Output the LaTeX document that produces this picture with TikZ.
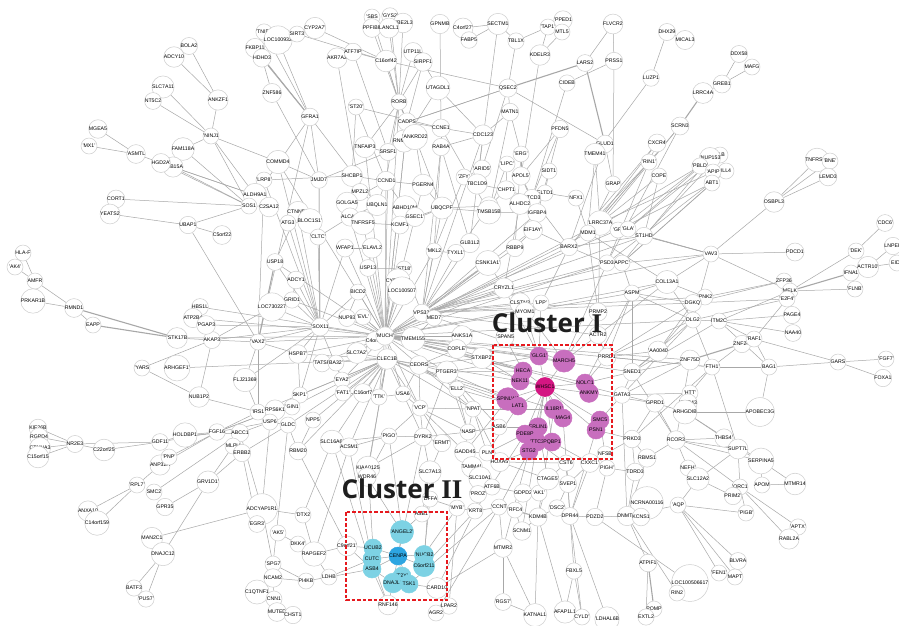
\documentclass[tikz,border=0pt]{standalone}
\usepackage{fontspec}
\setmainfont{Liberation Sans}
\newfontfamily\clusterfont{Open Sans}
\newfontfamily\numeralfont{Liberation Serif}
\usetikzlibrary{backgrounds}
\definecolor{edgegray}{RGB}{168,168,168}
\definecolor{ringgray}{RGB}{205,205,205}
\definecolor{pinknode}{RGB}{200,110,190}
\definecolor{magnode}{RGB}{212,22,130}
\definecolor{cyannode}{RGB}{125,210,228}
\definecolor{bluenode}{RGB}{45,165,225}
\definecolor{boxred}{RGB}{230,25,30}
\definecolor{titlegray}{RGB}{30,30,30}
\tikzset{
  nd/.style={circle,draw=ringgray,line width=0.5pt,fill=white,minimum size=16pt,inner sep=0pt,
             font=\fontsize{5.2}{6}\selectfont,text=black},
  pk/.style={fill=pinknode,draw=pinknode,minimum size=18pt},
  mg/.style={fill=magnode,draw=magnode,minimum size=18pt},
  cy/.style={fill=cyannode,draw=cyannode,minimum size=18pt},
  bl/.style={fill=bluenode,draw=bluenode,minimum size=18pt},
  ed/.style={draw=edgegray,line width=0.5pt},
  edt/.style={draw=edgegray,line width=1.1pt},
  clusterbox/.style={draw=boxred,line width=1.1pt,dash pattern=on 3.5pt off 2pt},
  clustertitle/.style={font=\clusterfont\bfseries\fontsize{26}{30}\selectfont,text=titlegray,inner sep=0pt}
}
\newcommand\gn[5][]{\node[nd,#1] (#2) at (#3,#4) {#5};}
\newcommand\romnum[1]{{\numeralfont\bfseries\fontsize{27}{30}\selectfont #1}}
\begin{document}
\begin{tikzpicture}[x=1pt,y=-1pt]
\useasboundingbox (0,0) rectangle (899,625);

% ---------- genes ----------
% upper left
\gn{bola2}{189}{46}{BOLA2}
\gn{adcy10}{174}{57}{ADCY10}
\gn{slc7a11}{163}{87}{SLC7A11}
\gn{nt5c2}{153}{101}{NT5C2}
\gn{ankzf1}{218}{100}{ANKZF1}
\gn{ninj1}{211}{136}{'NINJ1}
\gn{fam118a}{183}{149}{FAM118A}
\gn{mgea5}{98}{129}{MGEA5}
\gn{mx1}{89}{146}{'MX1'}
\gn{asmtl}{136}{154}{'ASMTL}
\gn{rab15a}{173}{167}{RAB15A}
\gn{hgd2a}{161}{163}{HGD2A'}
\gn{cort1}{116}{199}{CORT1}
\gn{yeats2}{110}{214}{YEATS2}
\gn{ubap1}{188}{225}{UBAP1}
\gn{c5orf22}{222}{235}{C5orf22}
% left
\gn{hlaf}{23}{253}{HLA-F}
\gn{ak4}{15}{267}{'AK4'}
\gn{amfr}{35}{281}{AMFR}
\gn{prkar1b}{33}{301}{PRKAR1B}
\gn{rmnd1}{74}{308}{RMND1}
\gn{eapp}{93}{325}{EAPP}
\gn{stk17b}{177}{338}{'STK17B}
\gn{akap3}{212}{340}{AKAP3}
\gn{hbs1l}{200}{307}{HBS1L}
\gn{atp2b4}{193}{318}{ATP2B4}
\gn{pgap3}{206}{325}{'PGAP3}
\gn{yars}{142}{368}{'YARS}
\gn{arhgef1}{177}{368}{ARHGEF1'}
\gn{nubp1}{199}{397}{NUB1P2}
% lower left
\gn{kif26b}{38}{428}{KIF26B}
\gn{rgpd4}{39}{437}{RGPD4}
\gn{ctnna3}{40}{448}{CTNNA3}
\gn{c15orf15}{38}{457}{C15orf15}
\gn{nr2e3}{75}{444}{NR2E3}
\gn{c22orf25}{104}{450}{C22orf25}
\gn{gdf11}{160}{442}{GDF11}
\gn{holdbp}{185}{435}{HOLDBP1}
\gn{fgf16}{217}{432}{FGF16}
\gn{anp32}{160}{465}{ANP32A}
\gn{pnp}{169}{457}{'PNP'}
\gn{rpl7}{137}{485}{'RPL7'}
\gn{smc2}{154}{492}{SMC2}
\gn{gpr35}{165}{507}{GPR35}
\gn{anxa10}{88}{511}{ANXA10}
\gn{c14orf159}{97}{523}{C14orf159}
\gn{cry1d}{208}{482}{GRV1D1'}
\gn{man2c1}{152}{538}{MAN2C1}
\gn{dnajc12}{163}{554}{DNAJC12}
\gn{batf3}{134}{588}{BATF3}
\gn{pus7}{146}{599}{'PUS7'}
% top, left of centre
\gn{tnip3}{264}{32}{'TNIP3}
\gn{loc100}{278}{40}{LOC100932}
\gn{fkbp11}{255}{48}{FKBP11}
\gn{hdhd3}{262}{58}{HDHD3}
\gn{sirt3}{297}{34}{SIRT3}
\gn{cyp2a7}{315}{28}{CYP2A7'}
\gn{znf586}{272}{93}{ZNF586}
\gn{gfra1}{310}{117}{GFRA1}
\gn{akr7a2}{337}{58}{AKR7A2}
\gn{atf7ip}{353}{52}{ATF7IP}
\gn{sbs}{372}{17}{'SBS}
\gn{gys2}{390}{16}{'GYS2'}
\gn{ube2l3}{403}{23}{UBE2L3}
\gn{ppfibp}{372}{28}{PPFIBP}
\gn{lancl1}{389}{28}{LANCL1}
\gn{c16orf42}{386}{61}{C16orf42}
\gn{utp11l}{413}{52}{UTP11L}
\gn{sirpf1}{423}{62}{SIRPF1}
\gn{gpnmb}{440}{24}{GPNMB}
\gn{st20}{356}{107}{'ST20'}
\gn{rorb}{399}{102}{RORB}
\gn{utagdl1}{438}{88}{UTAGDL1}
\gn{cadps}{407}{122}{CADPS}
\gn{ccne1}{441}{128}{CCNE1}
\gn{rnmd4a}{404}{141}{RNMD4A}
\gn{ankrd22}{415}{137}{'ANKRD22}
\gn{rab4a}{441}{147}{RAB4A}
\gn{tnfaip3}{365}{147}{TNFAIP3}
\gn{srsf1}{388}{152}{SRSF1}
\gn{commd4}{278}{162}{COMMD4}
\gn{lrp8}{264}{180}{'LRP8'}
\gn{jmjd7}{319}{180}{JMJD7}
\gn{shcbp1}{352}{176}{SHCBP1}
\gn{ccnd1}{386}{181}{'CCND1}
\gn{mpzl2}{360}{192}{MPZL2}
\gn{pgern}{423}{185}{PGERN4}
\gn{aldh9a1}{255}{195}{ALDH9A1}
\gn{sos1}{249}{206}{SOS1}
\gn{c25a12}{269}{207}{C2SA12}
\gn{golga5}{347}{203}{GOLGA5}
\gn{ubqln1}{377}{205}{UBQLN1}
\gn{ctnnd2}{298}{212}{CTNND2}
\gn{abhd10}{405}{208}{ABHD10M}
\gn{ubqcpf}{442}{208}{UBQCPF}
% top, right of centre
\gn{c4orf27}{463}{28}{C4orf27'}
\gn{sectm1}{498}{24}{SECTM1}
\gn{fabp5}{469}{40}{FABP5}
\gn{tbl1x}{516}{41}{TBL1X}
\gn{tap1}{548}{27}{'TAP1'}
\gn{pped1}{563}{20}{'PPED1}
\gn{mtl5}{562}{32}{MTL5}
\gn{kdelr3}{540}{55}{KDELR3}
\gn{qsec2}{508}{88}{QSEC2}
\gn{lars2}{585}{63}{LARS2}
\gn{prss1}{614}{61}{PRSS1}
\gn{cideb}{567}{83}{CIDEB}
\gn{flvcr2}{613}{24}{FLVCR2}
\gn{luzp1}{651}{78}{LUZP1}
\gn{dhx29}{667}{32}{DHX29}
\gn{mical3}{685}{40}{MICAL3}
\gn{matn1}{510}{112}{MATN1}
\gn{pfdn5}{560}{129}{PFDN5}
\gn{cdc123}{483}{135}{CDC123}
\gn{glud1}{605}{144}{GLUD1}
\gn{tmem41}{595}{154}{TMEM41}
\gn{cxcr4}{657}{143}{CXCR4}
\gn{rin1}{649}{162}{'RIN1'}
\gn{cope}{659}{176}{COPE}
\gn{erg}{521}{154}{'ERG'}
\gn{lipc}{507}{164}{'LIPC'}
\gn{arid}{482}{169}{'ARID5'}
\gn{zfy}{464}{177}{'ZFY'}
\gn{tbc1d9}{477}{184}{TBC1D9}
\gn{apol5}{521}{176}{APOL5'}
\gn{sidt1}{549}{171}{SIDT1}
\gn{chpt1}{506}{190}{'CHPT1}
\gn{eltd1}{545}{193}{ELTD1}
\gn{ptcd3}{532}{198}{PTCD3}
\gn{nfx1}{576}{198}{NFX1}
\gn{grap}{613}{184}{GRAP}
\gn{mcph1}{489}{206}{MCPH1}
\gn{aldhc2}{520}{204}{ALHDC2}
% upper right
\gn{ddx58}{739}{54}{DDX58}
\gn{mafg}{752}{67}{MAFG}
\gn{greb1}{722}{84}{GREB1}
\gn{lrr}{703}{93}{LRRC4A}
\gn{scrn3}{680}{126}{SCRN3}
\gn{alb}{720}{155}{ALB}
\gn{nup153}{710}{158}{'NUP153}
\gn{pbld}{700}{166}{'PBLD'}
\gn{ill4}{726}{171}{ILL4}
\gn{apip}{713}{172}{'APIP}
\gn{abt1}{712}{183}{ABT1}
\gn{tnfrsf8}{817}{160}{TNFRSF8}
\gn{bne}{830}{161}{'BNE'}
\gn{lemd3}{828}{177}{LEMD3}
\gn{osbpl3}{774}{202}{OSBPL3}
% right
\gn{cdc6}{885}{223}{'CDC6'}
\gn{lnpep}{893}{246}{LNPEP}
\gn{dek}{856}{251}{'DEK'}
\gn{eid}{897}{263}{EID2}
\gn{actr10}{868}{267}{ACTR10'}
\gn{ifna1}{851}{273}{IFNA1}
\gn{flnb}{855}{289}{'FLNB'}
\gn{vav3}{711}{254}{VAV3}
\gn{pdcd1}{795}{252}{PDCD1}
\gn{zfp36}{784}{281}{ZFP36}
\gn{melk}{790}{291}{MELK}
\gn{pnk2}{705}{297}{'PNK2}
\gn{dgkq}{693}{303}{DGKQ'}
\gn{e24}{787}{299}{'E2F4'}
\gn{page4}{792}{315}{PAGE4}
\gn{naa40}{793}{333}{NAA40}
\gn{dlg2}{693}{320}{DLG2}
\gn{itm2c}{719}{321}{ITM2C}
\gn{znf24}{742}{344}{ZNF24'}
\gn{raf1}{754}{339}{'RAF1}
\gn{znf75d}{690}{360}{ZNF75D}
\gn{fth1}{712}{367}{'FTH1'}
\gn{bag1}{769}{367}{BAG1}
\gn{gars}{838}{362}{GARS}
\gn{fgf7}{886}{359}{'FGF7'}
\gn{foxa1}{883}{378}{FOXA1}
\gn{htt}{690}{393}{'HTT'}
\gn{gap43}{688}{403}{'GAP43}
\gn{arhgdib}{685}{412}{ARHGDIB}
\gn{apobec3g}{760}{412}{APOBEC3G}
% centre right
\gn{tmsb15b}{489}{212}{TMSB15B}
\gn{igfbp4}{537}{213}{IGFBP4}
\gn{eif1ay}{533}{230}{EIF1AY'}
\gn{lrrc37a}{600}{223}{'LRRC37A}
\gn{mdm1}{588}{233}{MDM1}
\gn{gria}{618}{230}{'GR'}
\gn{gla}{628}{229}{'GLA'}
\gn{st1hd}{644}{236}{ST1HD}
\gn{glb1l2}{470}{243}{GLB1L2}
\gn{rbbp9}{515}{248}{RBBP9}
\gn{barx2}{569}{247}{BARX2}
\gn{mkl2}{434}{251}{'MKL2}
\gn{tyxl1}{456}{253}{TYXL1'}
\gn{csnk1a1}{488}{263}{CSNK1A1'}
\gn{psd3}{607}{263}{'PSD3'}
\gn{appc}{622}{263}{APPC'}
\gn{col13a1}{667}{282}{COL13A1}
\gn{cryzl1}{504}{288}{CRYZL1}
\gn{aspm}{632}{293}{ASPM}
\gn{clstn3}{520}{303}{CLSTN3}
\gn{lpp}{541}{303}{'LPP'}
\gn{myom1}{525}{312}{MYOM1}
\gn{rbmp2}{598}{312}{PRMP2}
\gn{actr2}{598}{335}{ACTR2}
\gn{anks1a}{462}{336}{ANKS1A}
\gn{span5}{505}{337}{'SPAN5}
\gn{cofle}{457}{349}{COPLE'}
\gn{stxbp2}{482}{358}{STXBP2'}
\gn{ptger3}{447}{372}{PTGER3'}
\gn{ell2}{457}{389}{'ELL2'}
\gn{npat}{473}{409}{'NPAT}
\gn{prrd1}{607}{357}{PRRD1}
\gn{aa0040}{658}{351}{'AA0040}
\gn{sned1}{632}{372}{SNED1}
\gn{gata3}{622}{395}{GATA3}
\gn{gprd1}{655}{403}{GPRD1}
\gn{asb6}{499}{427}{ASB6}
\gn{hoxa5}{500}{462}{HOXA5'}
\gn{nfsb}{605}{454}{NFSB}
% cluster I
\gn[pk]{glg1}{539}{356}{'GLG1'}
\gn[pk]{march5}{564}{361}{MARCH5}
\gn[pk]{heca}{523}{371}{HECA}
\gn[pk]{nek1}{520}{381}{NEK11}
\gn[pk]{nolc1}{585}{383}{NOLC1}
\gn[pk]{ankmy}{589}{393}{ANKMY}
\gn[mg]{whsc1}{545}{387}{WHSC1}
\gn[pk]{spinlw1}{508}{399}{SPINLW1}
\gn[pk]{at1}{518}{406}{LAT1}
\gn[pk]{il18r1}{554}{409}{'IL18R1'}
\gn[pk]{rag4}{563}{418}{MAG4}
\gn[pk]{smc5}{600}{420}{SMC5}
\gn[pk]{psn1}{596}{430}{PSN1}
\gn[pk]{erlin1}{538}{427}{ERLIN1}
\gn[pk]{pde8}{525}{434}{PDE8P}
\gn[pk]{ttc3}{537}{442}{'TTC3}
\gn[pk]{pqbp1}{552}{442}{PQBP1}
\gn[pk]{stg2}{529}{451}{STG2}
% centre left
\gn{atg3}{288}{223}{ATG3}
\gn{bloc1s1}{310}{221}{BLOC1S1'}
\gn{alcam}{350}{217}{ALCAM}
\gn{tnfrsf5}{363}{223}{TNFRSF5}
\gn{kcmf1}{400}{225}{KCMF1}
\gn{gsec1}{415}{217}{GSEC1'}
\gn{cltc}{318}{237}{'CLTC'}
\gn{wfap1}{345}{248}{WFAP1}
\gn{elavl2}{372}{248}{'ELAVL2}
\gn{usp18}{275}{262}{USP18}
\gn{usp13}{368}{268}{USP13}
\gn{st18}{404}{269}{'ST18'}
\gn{cyp2c19}{398}{281}{CYP2C19'}
\gn{adcy1}{296}{280}{ADCY1}
\gn{bicd2}{358}{292}{BICD2}
\gn{loc1005b}{402}{291}{LOC100507}
\gn{grid1}{292}{300}{GRID1}
\gn{loc730227}{272}{307}{LOC730227}
\gn{nup93}{347}{318}{NUP93}
\gn{evl}{363}{317}{'EVL'}
\gn{vps33}{422}{313}{VPS33'}
\gn{med7}{434}{318}{MED7}
\gn{sox11}{320}{327}{'SOX11}
\gn{c4orf23}{375}{341}{C4orf23}
\gn{much}{385}{336}{'MUCH'}
\gn{tmem155}{413}{339}{TMEM155}
\gn{vax2}{258}{342}{'VAX2'}
\gn{hspb7}{298}{354}{HSPB7'}
\gn{slc7a2}{357}{353}{SLC7A2'}
\gn{clec1b}{387}{359}{CLEC1B}
\gn{tatsr}{322}{363}{'TATSR}
\gn{ba3}{336}{363}{BA32'}
\gn{flj21369}{245}{380}{FLJ21369}
\gn{ceors}{419}{365}{CEORS}
\gn{eya2}{342}{380}{'EYA2'}
\gn{fat1}{343}{393}{'FAT1'}
\gn{c16orf7}{363}{393}{C16orf7}
\gn{ttk}{379}{397}{'TTK'}
\gn{usa6}{403}{394}{USA6}
\gn{skp1}{300}{395}{SKP1'}
\gn{gin1}{292}{407}{'GIN1}
\gn{irs1}{258}{412}{'IRS1}
\gn{rps6k}{275}{410}{RPS6K1}
\gn{vcp}{420}{408}{'VCP'}
\gn{usp6}{270}{422}{USP6}
\gn{npps}{313}{420}{NPP5}
\gn{gldc}{288}{425}{GLDC}
\gn{abcc1}{240}{433}{ABCC1}
\gn{mlph}{233}{446}{MLPH}
\gn{erbb2}{242}{453}{ERBB2}
\gn{rbm20}{298}{451}{RBM20}
\gn{slc16a6}{332}{442}{SLC16A6'}
\gn{acsm1}{349}{447}{ACSM1}
\gn{pigo}{389}{436}{'PIGO'}
\gn{dyrk2}{423}{437}{DYRK2}
\gn{ermt}{442}{443}{'ERMT'}
\gn{kiaa}{368}{468}{KIAA0125}
\gn{wdr46}{367}{477}{WDR46}
\gn{slc7a13}{430}{472}{SLC7A13}
\gn{dffa}{430}{499}{'DFFA}
\gn{asb1}{422}{514}{ASB1'}
% lower left of centre
\gn{adcyap1r1}{262}{509}{ADCYAP1R1}
\gn{egr3}{257}{524}{'EGR3'}
\gn{dtx2}{303}{515}{'DTX2}
\gn{ak5}{278}{533}{'AK5'}
\gn{dkk4}{298}{544}{DKK4'}
\gn{rapgef2}{314}{554}{RAPGEF2}
\gn{c9orf21}{347}{546}{C9orf21'}
\gn{spg7}{273}{564}{'SPG7}
\gn{ncam2}{273}{578}{NCAM2}
\gn{c1qtnf1}{257}{592}{C1QTNF1}
\gn{cnn1}{274}{599}{CNN1}
\gn{muted}{277}{612}{MUTED}
\gn{chst1}{293}{615}{CHST1}
\gn{pi4kb}{306}{581}{PI4KB}
\gn{ldhb}{329}{577}{LDHB}
\gn{card10}{437}{588}{CARD10}
\gn{rnf146}{388}{605}{RNF146}
\gn{lpar2}{449}{606}{LPAR2}
\gn{agr2}{436}{613}{AGR2}
% cluster II
\gn[cy]{angel2}{402}{532}{'ANGEL2'}
\gn[cy]{ucub}{373}{548}{UCUB2}
\gn[cy]{nucb2}{424}{555}{'NUCB2}
\gn[cy]{cutc}{372}{559}{CUTC}
\gn[cy]{c6orf211}{424}{566}{C6orf211}
\gn[cy]{asb4}{372}{569}{ASB4}
\gn[cy]{tsy}{402}{576}{'T2Y'}
\gn[cy]{dnajl1}{393}{583}{DNAJL1}
\gn[cy]{tsk1}{409}{584}{TSK1}
\gn[bl]{cenpa}{398}{556}{CENPA}
% lower centre
\gn{nasp}{468}{432}{'NASP}
\gn{gadd45}{465}{452}{GADD45}
\gn{pln}{487}{453}{PLN}
\gn{tamm}{472}{467}{TAMM41}
\gn{slc10a1}{480}{478}{SLC10A1}
\gn{atf6b}{492}{487}{ATF6B}
\gn{proz}{478}{494}{'PROZ'}
\gn{myb}{457}{508}{'MYB'}
\gn{krt8}{475}{511}{'KRT8}
\gn{ccnt}{499}{507}{'CCNT}
\gn{rfc4}{515}{510}{'RFC4}
\gn{gdpd2}{523}{493}{GDPD2}
\gn{ak1}{539}{493}{'AK1'}
\gn{ctage5}{548}{479}{CTAGE5'}
\gn{cst6}{566}{463}{CST6}
\gn{cxxc1}{590}{463}{CXXC1'}
\gn{pigh}{607}{468}{PIGH'}
\gn{svep1}{568}{484}{SVEP1}
\gn{dsc2}{557}{508}{'DSC2'}
\gn{kdm4b}{538}{517}{KDM4B}
\gn{dpr44}{570}{516}{DPR44}
\gn{pdzd2}{595}{517}{PDZD2}
\gn{ncrna}{647}{503}{NCRNA00116}
\gn{dnmt1}{627}{516}{DNMT1'}
\gn{kcns1}{641}{517}{KCNS1}
\gn{scnm1}{522}{531}{SCNM1}
\gn{mtmr2}{503}{548}{MTMR2}
\gn{fbxl5}{574}{571}{FBXL5}
\gn{atpif1}{648}{563}{ATPIF1}
\gn{rgs7}{503}{602}{'RGS7'}
\gn{katnal1}{535}{615}{KATNAL1}
\gn{afap1l1}{565}{612}{AFAP1L1}
\gn{cyld}{582}{617}{CYLD'}
\gn{ldhal6b}{607}{619}{'LDHAL6B}
\gn{pomp}{654}{609}{POMP}
\gn{extl2}{646}{617}{EXTL2}
\gn{prkd3}{632}{439}{PRKD3}
\gn{rcor3}{676}{440}{RCOR3}
\gn{rbms1}{647}{458}{RBMS1}
\gn{tdrd3}{635}{472}{TDRD3}
\gn{loc1006}{690}{583}{LOC100506617}
\gn{rin2}{677}{593}{RIN2}
% lower right
\gn{thbs4}{724}{438}{THBS4'}
\gn{supt7l}{738}{449}{SUPT7L}
\gn{serpina5}{761}{461}{SERPINA5}
\gn{nefh}{688}{468}{NEFH'}
\gn{slc12a2}{698}{479}{SLC12A2}
\gn{apom}{762}{485}{APOM}
\gn{mtmr14}{795}{484}{MTMR14}
\gn{orc1}{740}{487}{'ORC1}
\gn{prim2}{733}{496}{PRIM2'}
\gn{aqp}{678}{505}{'AQP}
\gn{pigb}{746}{513}{'PIGB'}
\gn{aptx}{798}{527}{'APTX'}
\gn{rabl2a}{789}{539}{RABL2A}
\gn{blvra}{738}{561}{BLVRA}
\gn{fen1}{719}{573}{'FEN1'}
\gn{mapt}{735}{577}{MAPT}

% ---------- interactions ----------
\begin{pgfonlayer}{background}
\fill[white] (0,0) rectangle (899,625);
\foreach \a/\b in {
 bola2/ankzf1, adcy10/ankzf1, ankzf1/ninj1, slc7a11/ninj1, nt5c2/ninj1, ninj1/fam118a,
 ninj1/sos1, ninj1/aldh9a1, fam118a/sos1, mgea5/asmtl, mx1/asmtl, asmtl/hgd2a,
 hgd2a/aldh9a1, rab15a/aldh9a1, rab15a/sos1, hgd2a/sos1, cort1/sos1, yeats2/ubap1,
 ubap1/c5orf22, ubap1/sos1, ubap1/vax2, ninj1/commd4,
 hlaf/amfr, ak4/amfr, amfr/prkar1b, amfr/rmnd1, prkar1b/rmnd1, rmnd1/eapp,
 stk17b/akap3, akap3/yars, akap3/nubp1, yars/nubp1, akap3/vax2, akap3/sox11,
 hbs1l/much, atp2b4/much, pgap3/sox11, arhgef1/clec1b, nubp1/irs1, stk17b/much,
 kif26b/nr2e3, rgpd4/nr2e3, ctnna3/nr2e3, c15orf15/nr2e3, nr2e3/c22orf25, nr2e3/gdf11,
 c22orf25/gdf11, gdf11/holdbp, holdbp/fgf16, gdf11/fgf16, pnp/fgf16, anp32/fgf16,
 anp32/rpl7, rpl7/anxa10, rpl7/c14orf159, smc2/abcc1, gpr35/cry1d, cry1d/erbb2,
 man2c1/adcyap1r1, dnajc12/cry1d, dnajc12/batf3, dnajc12/pus7, fgf16/irs1, fgf16/usp6,
 holdbp/abcc1, fgf16/rps6k, cry1d/mlph,
 tnip3/gfra1, loc100/gfra1, fkbp11/gfra1, hdhd3/znf586, znf586/jmjd7, sirt3/c16orf42,
 cyp2a7/c16orf42, gfra1/sos1, gfra1/ubqln1, gfra1/vax2, akr7a2/mpzl2, atf7ip/c16orf42,
 atf7ip/srsf1, sbs/rorb, gys2/rorb, ube2l3/rorb, ppfibp/rorb, lancl1/rorb,
 c16orf42/rorb, utp11l/rorb, sirpf1/rorb, sirpf1/cadps, gpnmb/ccne1, rorb/srsf1,
 rorb/tnfaip3, st20/ccnd1, st20/ccne1, srsf1/jmjd7, commd4/jmjd7, commd4/much,
 lrp8/vax2, shcbp1/ccnd1, ccnd1/pgern, utagdl1/sirpf1, utagdl1/rnmd4a, c16orf42/qsec2,
 cadps/ccne1, ccne1/rab4a, ankrd22/pgern, rnmd4a/srsf1, tnfaip3/srsf1, lrp8/shcbp1,
 c4orf27/sectm1, fabp5/sectm1, sectm1/tbl1x, tbl1x/tap1, tap1/pped1, tap1/mtl5,
 mtl5/kdelr3, tap1/kdelr3, tbl1x/qsec2, kdelr3/apol5, sectm1/tbc1d9, qsec2/glud1,
 qsec2/matn1, qsec2/cadps, lars2/flvcr2, prss1/flvcr2, prss1/cideb, prss1/grap,
 cideb/ptcd3, luzp1/dhx29, luzp1/tmem41, matn1/cdc123, matn1/erg, pfdn5/sidt1,
 pfdn5/apol5, glud1/tmem41, glud1/grap, cdc123/rab4a, erg/apol5, lipc/chpt1,
 arid/tbc1d9, zfy/tbc1d9, tbc1d9/chpt1, chpt1/ptcd3, sidt1/eltd1, apol5/ptcd3,
 chpt1/mcph1, aldhc2/ptcd3, nfx1/eltd1, tmem41/mdm1, mical3/dhx29,
 ddx58/greb1, mafg/greb1, greb1/lrr, scrn3/lrrc37a, scrn3/psd3,
 nup153/gla, alb/st1hd, pbld/mdm1, apip/lrrc37a, ill4/appc, abt1/gria,
 tnfrsf8/osbpl3, bne/osbpl3, lemd3/osbpl3, osbpl3/vav3, cxcr4/barx2, cxcr4/psd3,
 rin1/mdm1, cope/st1hd, pbld/gria, abt1/appc,
 vav3/pdcd1, vav3/melk, vav3/st1hd, vav3/col13a1, cdc6/dek, dek/actr10, dek/melk,
 actr10/lnpep, actr10/eid, flnb/melk, zfp36/melk, zfp36/pnk2, e24/dgkq,
 e24/raf1, itm2c/page4, itm2c/naa40, itm2c/bag1, itm2c/raf1, raf1/gars, raf1/bag1,
 bag1/gars, bag1/fth1, bag1/apobec3g, gars/fgf7, gars/foxa1, fth1/dlg2, fth1/supt7l,
 dlg2/aspm, dlg2/sned1, pnk2/col13a1, dgkq/aspm, fth1/htt, htt/gap43, arhgdib/apobec3g,
 znf75d/sned1, znf75d/gata3, dlg2/prrd1, dlg2/itm2c, znf24/fth1,
 thbs4/supt7l, supt7l/serpina5, serpina5/apom, serpina5/mtmr14, apom/mtmr14,
 supt7l/orc1, supt7l/slc12a2, orc1/aptx, orc1/rabl2a, orc1/pigb, aqp/pigb,
 aqp/blvra, aqp/fen1, aqp/mapt, slc12a2/prim2, slc12a2/aqp, rcor3/supt7l, rcor3/orc1,
 arhgdib/serpina5, dnmt1/aqp, dnmt1/rbms1,
 atpif1/extl2, atpif1/dnmt1, fbxl5/cyld, fbxl5/afap1l1, fbxl5/dpr44,
 kdm4b/katnal1, kdm4b/afap1l1, mtmr2/rgs7, mtmr2/katnal1, dpr44/pdzd2, pdzd2/dnmt1,
 dnmt1/kcns1, svep1/dpr44, cxxc1/dpr44, ncrna/dnmt1, ldhal6b/dpr44, kdm4b/dsc2,
 scnm1/kdm4b, cyld/dpr44, loc1006/pdzd2, rin2/dnmt1,
 adcyap1r1/egr3, adcyap1r1/spg7, adcyap1r1/dtx2, dtx2/rapgef2, ak5/dkk4, dkk4/rapgef2,
 rapgef2/c9orf21, rapgef2/ldhb, spg7/pi4kb, ncam2/pi4kb, c1qtnf1/cnn1, pi4kb/ldhb,
 ldhb/cutc, ldhb/asb4, muted/chst1, spg7/cnn1,
 cenpa/angel2, cenpa/ucub, cenpa/nucb2, cenpa/cutc, cenpa/c6orf211, cenpa/asb4,
 cenpa/tsy, cenpa/dnajl1, cenpa/tsk1, ucub/cutc, cutc/asb4, nucb2/c6orf211,
 tsy/dnajl1, dnajl1/tsk1, asb4/dnajl1, rnf146/dnajl1, rnf146/asb4, card10/tsk1,
 c9orf21/ucub, angel2/wdr46, angel2/asb1, ucub/kiaa, nucb2/dffa, c6orf211/slc7a13,
 cutc/acsm1, asb4/slc16a6, cenpa/dyrk2, angel2/pigo, rnf146/cutc, c9orf21/asb4,
 whsc1/glg1, whsc1/march5, whsc1/heca, whsc1/nek1, whsc1/nolc1, whsc1/ankmy,
 whsc1/spinlw1, whsc1/at1, whsc1/il18r1, whsc1/rag4, whsc1/smc5, whsc1/psn1,
 whsc1/erlin1, whsc1/pde8, whsc1/ttc3, whsc1/pqbp1, whsc1/stg2, heca/nek1,
 nolc1/ankmy, spinlw1/at1, il18r1/rag4, smc5/psn1, erlin1/pde8, ttc3/pqbp1,
 glg1/lpp, march5/rbmp2, march5/actr2, heca/span5, nek1/stxbp2, nolc1/prrd1,
 nolc1/sned1, spinlw1/ptger3, at1/ell2, il18r1/npat, smc5/gata3, psn1/prkd3,
 erlin1/asb6, stg2/hoxa5, ttc3/cst6, pqbp1/cxxc1, pde8/pln, glg1/myom1, march5/clstn3,
 much/clec1b, much/c4orf23, much/tmem155, much/vps33, much/sox11, much/slc7a2,
 much/cyp2c19, much/loc1005b, much/bicd2, much/evl, much/nup93, much/usp13,
 much/st18, much/elavl2, much/wfap1, much/tnfrsf5, much/alcam, much/kcmf1,
 much/ceors, much/usa6, much/ttk, much/vcp, much/ptger3, much/stxbp2, much/heca,
 much/whsc1, much/glg1, much/march5, much/nolc1, much/sned1, much/gata3,
 much/cofle, much/anks1a, much/eya2, much/hspb7, much/tatsr, much/vax2, much/grid1,
 much/usp18, much/mkl2, much/csnk1a1, much/cryzl1, much/barx2, much/mdm1,
 much/lrrc37a, much/psd3, much/aspm, much/col13a1, much/dlg2, much/znf75d, much/fth1,
 much/rorb, much/cadps, much/srsf1, much/tnfaip3, much/ccnd1, much/gsec1,
 clec1b/eya2, clec1b/fat1, clec1b/skp1, clec1b/tatsr, clec1b/ceors, clec1b/vcp,
 clec1b/ttk, clec1b/c16orf7, clec1b/slc7a2, clec1b/npat, clec1b/spinlw1, clec1b/dyrk2,
 clec1b/slc16a6, clec1b/acsm1, clec1b/rbm20, clec1b/gldc, clec1b/irs1, clec1b/hspb7,
 clec1b/at1, clec1b/nek1, clec1b/il18r1, clec1b/kiaa, clec1b/wdr46,
 vps33/med7, vps33/st18, vps33/mkl2, vps33/tyxl1, vps33/glb1l2, vps33/csnk1a1,
 vps33/cryzl1, vps33/rbbp9, vps33/clstn3, vps33/lpp, vps33/march5, vps33/gria,
 vps33/st1hd, vps33/appc, vps33/psd3, vps33/actr2, vps33/vav3, vps33/dgkq, vps33/pnk2,
 vps33/eif1ay, vps33/igfbp4, vps33/cdc123, vps33/rab4a, vps33/ubqcpf,
 sox11/usp18, sox11/adcy1, sox11/hspb7, sox11/vax2, sox11/grid1, sox11/loc730227,
 sox11/bicd2, sox11/wfap1, sox11/cltc, sox11/eya2, sox11/skp1, sox11/flj21369,
 sox11/jmjd7, sox11/commd4, sox11/atg3, sox11/ctnnd2,
 ceors/ptger3, ceors/usa6, ceors/vcp, ceors/npat, ceors/ell2, ceors/stxbp2, ceors/cofle,
 ptger3/ell2, ptger3/npat, ptger3/nasp, ptger3/dyrk2, ptger3/glg1, ptger3/heca,
 vcp/pigo, vcp/dyrk2, vcp/ermt, vcp/usa6, vcp/npat, vcp/nasp, vcp/gadd45,
 dyrk2/ermt, dyrk2/slc7a13, dyrk2/kiaa, dyrk2/pigo, dyrk2/nasp, pigo/acsm1,
 pigo/slc16a6, pigo/wdr46,
 ccnd1/golga5, ccnd1/ubqln1, ccnd1/abhd10, golga5/mpzl2, mpzl2/ubqln1, ubqln1/alcam,
 ubqln1/tnfrsf5, abhd10/kcmf1, ubqcpf/gsec1, ubqcpf/kcmf1, ubqcpf/tmsb15b,
 ubqcpf/mcph1, tmsb15b/mcph1, tmsb15b/igfbp4, igfbp4/eif1ay, igfbp4/aldhc2,
 eif1ay/rbbp9, glb1l2/tyxl1, csnk1a1/cryzl1, cryzl1/clstn3, clstn3/myom1, myom1/lpp,
 lpp/barx2, barx2/eif1ay, barx2/psd3, mdm1/lrrc37a, gria/gla, gla/st1hd, psd3/appc,
 appc/aspm, aspm/col13a1, mkl2/tyxl1,
 rorb/ccnd1, cadps/much, jmjd7/sox11, lrp8/sox11, usp18/ctnnd2, atg3/bloc1s1,
 bloc1s1/cltc, cltc/alcam, alcam/tnfrsf5, tnfrsf5/kcmf1, kcmf1/gsec1, wfap1/elavl2,
 elavl2/usp13, usp13/st18, st18/cyp2c19, cyp2c19/loc1005b, bicd2/nup93, nup93/evl,
 evl/much, tmem155/med7, slc7a2/c4orf23, tatsr/ba3, ba3/eya2, eya2/fat1,
 fat1/c16orf7, c16orf7/ttk, ttk/usa6, skp1/gin1, gin1/irs1, irs1/rps6k, usp6/gldc,
 gldc/rbm20, npps/rbm20, adcy1/grid1, grid1/loc730227, loc730227/akap3, vax2/irs1,
 vax2/flj21369, vax2/hspb7, flj21369/irs1, hspb7/skp1, npps/clec1b, gin1/clec1b,
 cadps/qsec2, ccne1/tmsb15b, rab4a/glb1l2, cdc123/glb1l2, zfy/mkl2, mcph1/tyxl1,
 aldhc2/cryzl1, ptcd3/barx2, nfx1/mdm1, grap/mdm1, glud1/barx2, tmem41/lrrc37a,
 matn1/tmsb15b, qsec2/tbc1d9, erg/rbbp9, apol5/igfbp4, lipc/tmsb15b, sidt1/eif1ay,
 pfdn5/ptcd3, chpt1/aldhc2, eltd1/ptcd3, utagdl1/cdc123, ccne1/cdc123, rab4a/mkl2,
 ankrd22/ubqcpf, pgern/ubqcpf, pgern/gsec1, arid/zfy, gfra1/jmjd7, st20/shcbp1,
 lrrc37a/vav3, st1hd/vav3, appc/vav3, mdm1/col13a1, col13a1/dlg2, aspm/sned1,
 aspm/prrd1, rbmp2/actr2, actr2/prrd1, prrd1/aa0040, aa0040/sned1, sned1/gata3,
 gata3/gprd1, gprd1/prkd3, gprd1/rcor3, aa0040/dgkq, prrd1/fth1, gata3/htt,
 gprd1/arhgdib, prkd3/rbms1, prkd3/tdrd3, cxxc1/pigh, pigh/tdrd3, nfsb/prkd3,
 rbms1/rcor3, tdrd3/dnmt1, rcor3/thbs4, rcor3/nefh, rcor3/serpina5, arhgdib/thbs4,
 hoxa5/cst6, hoxa5/pln, pln/gadd45, nasp/gadd45, gadd45/tamm, tamm/slc10a1,
 slc10a1/atf6b, atf6b/proz, proz/krt8, krt8/myb, myb/dffa, ccnt/krt8, ccnt/rfc4,
 rfc4/gdpd2, gdpd2/ak1, ak1/ctage5, ctage5/svep1, svep1/cst6, cst6/ctage5, svep1/cxxc1,
 dsc2/svep1, kdm4b/rfc4, scnm1/rfc4, mtmr2/ccnt, kdm4b/ccnt, pdzd2/pigh, dpr44/cst6,
 ctage5/kdm4b, hoxa5/ctage5, atf6b/gdpd2, dffa/asb1, asb1/slc7a13, slc7a13/ermt,
 myb/lpar2, krt8/card10, ccnt/agr2, rgs7/katnal1, nucb2/myb, c6orf211/krt8,
 tsk1/ccnt, card10/mtmr2, npat/nasp, npat/hoxa5, npat/pln, ell2/nasp,
 rps6k/fgf16, usp6/abcc1, gldc/erbb2, abcc1/mlph, abcc1/adcyap1r1, erbb2/egr3,
 usp6/adcyap1r1, rbm20/c9orf21, acsm1/rapgef2, slc16a6/dtx2, gldc/spg7,
 asb6/nasp, asb6/ptger3, stg2/ccnt, pde8/krt8, erlin1/ctage5, rag4/svep1,
 il18r1/kdm4b, smc5/nfsb, psn1/dpr44, ankmy/gprd1, nolc1/aspm, march5/psd3,
 glg1/cryzl1, heca/cofle, spinlw1/gadd45, at1/pln, ttc3/scnm1, stg2/mtmr2,
 gata3/dnmt1, sned1/rcor3, fth1/prkd3, znf75d/rcor3, dlg2/gata3, itm2c/sned1,
 vav3/dlg2, dgkq/prrd1, pnk2/aa0040, zfp36/dgkq, melk/itm2c, e24/dlg2,
 st1hd/barx2, col13a1/actr2, mdm1/rbmp2, lrrc37a/actr2, cope/lrrc37a, rin1/barx2,
 cxcr4/mdm1, scrn3/mdm1, alb/gla, nup153/appc, ill4/psd3}
 \draw[ed] (\a) -- (\b);
\foreach \a/\b in {rmnd1/stk17b, eapp/stk17b, hdhd3/gfra1, rorb/cadps, qsec2/lars2,
 lars2/glud1, lrr/scrn3, ifna1/melk, actr10/ifna1, znf24/znf75d, atpif1/pomp,
 usp18/vax2}
 \draw[edt] (\a) -- (\b);
\end{pgfonlayer}

% ---------- cluster frames and titles ----------
\draw[clusterbox] (493,345) rectangle (612,459);
\draw[clusterbox] (346,512) rectangle (447,600);
\node[clustertitle,anchor=base] (titleA) at (547,332) {Cluster \romnum{I}};
\node[clustertitle,anchor=base] (titleB) at (402,498) {Cluster \romnum{II}};
\end{tikzpicture}
\end{document}
